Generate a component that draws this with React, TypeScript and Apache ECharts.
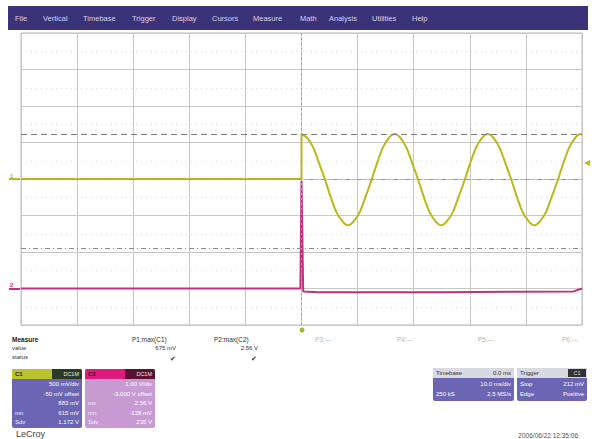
import React, { useEffect, useRef } from "react";
import * as echarts from "echarts";

// Time in divisions (10 div across), amplitude in divisions (8 div tall)
const yellowFlat: [number, number][] = [[-5, 0], [0, 0], [0, 1.23]];
const yellowSineT = [
  0, 0.10, 0.21, 0.31, 0.42, 0.52, 0.62, 0.73, 0.83, 0.93, 1.04, 1.14, 1.25, 1.35, 1.45, 1.56,
  1.66, 1.76, 1.87, 1.97, 2.08, 2.18, 2.28, 2.39, 2.49, 2.59, 2.70, 2.80, 2.91, 3.01, 3.11, 3.22,
  3.32, 3.42, 3.53, 3.63, 3.74, 3.84, 3.94, 4.05, 4.15, 4.25, 4.36, 4.46, 4.57, 4.67, 4.77, 4.88,
  4.98, 5.0,
];
const yellowSineV = [
  1.23, 1.13, 0.86, 0.45, -0.02, -0.49, -0.9, -1.16, -1.27, -1.16, -0.9, -0.49, -0.02, 0.45, 0.86, 1.13,
  1.23, 1.13, 0.86, 0.45, -0.02, -0.49, -0.9, -1.16, -1.27, -1.16, -0.9, -0.49, -0.02, 0.45, 0.86, 1.13,
  1.23, 1.13, 0.86, 0.45, -0.02, -0.49, -0.9, -1.16, -1.27, -1.16, -0.9, -0.49, -0.02, 0.45, 0.86, 1.13,
  1.23, 1.22,
];
const pinkT = [-5, -0.02, 0, 0.03, 0.3, 2.5, 4.85, 5.0];
const pinkV = [-3.0, -3.0, -0.05, -3.08, -3.1, -3.1, -3.08, -3.0];
const cursorLevels = [1.23, -1.89];

const menuItems = ["File", "Vertical", "Timebase", "Trigger", "Display", "Cursors", "Measure", "Math", "Analysis", "Utilities", "Help"];
const menuX = [15, 43, 83, 132, 172, 212, 253, 300, 329, 372, 412];
const paramLabels = ["P3:---", "P4:---", "P5:---", "P6:---"];
const paramX = [315, 397, 478, 562];
const measureNames = ["P1:max(C1)", "P2:max(C2)"];
const measureValues = ["675 mV", "2.56 V"];
const c1Rows: [string, string][] = [["", "500 mV/div"], ["", "-50 mV offset"], ["", "883 mV"], ["mn", "615 mV"], ["Sdv", "1.172 V"]];
const c2Rows: [string, string][] = [["", "1.00 V/div"], ["", "-3.000 V offset"], ["mx", "2.56 V"], ["mn", "-128 mV"], ["Sdv", "235 V"]];

function txt(x: number, y: number, text: string, fill: string, size: number, align = "left", weight = "normal") {
  return {
    type: "text",
    x,
    y,
    silent: true,
    style: { text, fill, font: `${weight} ${size}px Arial, "Liberation Sans", sans-serif`, align, verticalAlign: "middle" },
  };
}
function rect(x: number, y: number, w: number, h: number, fill: string, r: any = 0) {
  return { type: "rect", silent: true, shape: { x, y, width: w, height: h, r }, style: { fill } };
}

function channelBox(x: number, headL: string, headR: string, body: string, rows: [string, string][], label: string) {
  const w = 70;
  const els: any[] = [];
  els.push(rect(x, 369, w, 59, body, 2));
  els.push(rect(x, 369, 40, 10, headL, [2, 0, 0, 0]));
  els.push(rect(x + 40, 369, w - 40, 10, headR, [0, 2, 0, 0]));
  els.push(txt(x + 3, 374, label, "#1a1a1a", 6, "left", "bold"));
  els.push(txt(x + w - 3, 374, "DC1M", "#e8e8e8", 5.5, "right"));
  rows.forEach((r, i) => {
    const y = 384 + i * 9.6;
    if (r[0]) els.push(txt(x + 3, y, r[0], "#f0f0ff", 6));
    els.push(txt(x + w - 3, y, r[1], "#ffffff", 6, "right"));
  });
  return els;
}

export default function App() {
  const ref = useRef<HTMLDivElement>(null);
  useEffect(() => {
    if (!ref.current) return;
    const chart = echarts.init(ref.current, undefined, { renderer: "svg" });

    const graphics: any[] = [];
    // menu bar
    graphics.push(rect(8, 6, 580, 24, "#3b3379"));
    menuItems.forEach((m, i) => graphics.push(txt(menuX[i], 18, m, "#d6d2ee", 7.5)));
    // channel markers
    graphics.push(txt(10, 176, "1", "#b9b91a", 6, "left", "bold"));
    graphics.push(rect(9, 178, 11, 2, "#b9b91a"));
    graphics.push(txt(10, 285, "2", "#c0307e", 6, "left", "bold"));
    graphics.push(rect(9, 288, 11, 2, "#c0307e"));
    graphics.push({ type: "polygon", silent: true, shape: { points: [[584, 163], [590, 160], [590, 166]] }, style: { fill: "#b9b91a" } });
    graphics.push({ type: "circle", silent: true, shape: { cx: 302, cy: 330, r: 2.5 }, style: { fill: "#a8b820" } });
    // P3..P6
    paramLabels.forEach((p, i) => graphics.push(txt(paramX[i], 339, p, "#b8b8b8", 6.5)));
    // measure table
    graphics.push(txt(12, 339, "Measure", "#222", 6.5, "left", "bold"));
    graphics.push(txt(12, 348, "value", "#333", 6));
    graphics.push(txt(12, 357, "status", "#333", 6));
    graphics.push(txt(132, 339, measureNames[0], "#333", 6.5));
    graphics.push(txt(214, 339, measureNames[1], "#333", 6.5));
    graphics.push(txt(176, 348, measureValues[0], "#333", 6, "right"));
    graphics.push(txt(258, 348, measureValues[1], "#333", 6, "right"));
    graphics.push(txt(173, 358, "✔", "#333", 7, "center"));
    graphics.push(txt(254, 358, "✔", "#333", 7, "center"));
    // channel boxes
    graphics.push(...channelBox(12, "#b9c42a", "#2b3a22", "#6c65b4", c1Rows, "C1"));
    graphics.push(...channelBox(85, "#e01a7c", "#5a1232", "#c79bd2", c2Rows, "C2"));
    // timebase box
    graphics.push(rect(433, 368, 81, 33, "#6c65b4", 2));
    graphics.push(rect(433, 368, 81, 10, "#d9d9e2", [2, 2, 0, 0]));
    graphics.push(txt(436, 373, "Timebase", "#333", 6));
    graphics.push(txt(511, 373, "0.0 ms", "#333", 6, "right"));
    graphics.push(txt(511, 384, "10.0 ms/div", "#fff", 6, "right"));
    graphics.push(txt(436, 394, "250 kS", "#fff", 6));
    graphics.push(txt(511, 394, "2.5 MS/s", "#fff", 6, "right"));
    // trigger box
    graphics.push(rect(517, 368, 70, 33, "#6c65b4", 2));
    graphics.push(rect(517, 368, 70, 10, "#d9d9e2", [2, 2, 0, 0]));
    graphics.push(rect(568, 369, 18, 8, "#333333"));
    graphics.push(txt(520, 373, "Trigger", "#333", 6));
    graphics.push(txt(577, 373, "C1", "#ddd", 5.5, "center"));
    graphics.push(txt(520, 384, "Stop", "#fff", 6));
    graphics.push(txt(584, 384, "212 mV", "#fff", 6, "right"));
    graphics.push(txt(520, 394, "Edge", "#fff", 6));
    graphics.push(txt(584, 394, "Positive", "#fff", 6, "right"));
    // footer
    graphics.push(txt(16, 434, "LeCroy", "#444", 9));
    graphics.push(txt(578, 435, "2006/06/22 12:35:06", "#555", 6.5, "right"));

    chart.setOption({
      animation: false,
      backgroundColor: "#ffffff",
      grid: { left: 21, top: 33, width: 561, height: 292, show: true, borderColor: "#bdbdbd", borderWidth: 1 },
      xAxis: {
        type: "value",
        min: -5,
        max: 5,
        interval: 1,
        axisLabel: { show: false },
        axisLine: { show: false },
        axisTick: { show: false },
        splitLine: { show: true, lineStyle: { color: "#c8c8c8", width: 1 } },
      },
      yAxis: {
        type: "value",
        min: -4,
        max: 4,
        interval: 1,
        axisLabel: { show: false },
        axisLine: { show: false },
        axisTick: { show: false },
        splitLine: { show: true, lineStyle: { color: "#c8c8c8", width: 1 } },
        minorTick: { show: false, splitNumber: 2 },
        minorSplitLine: { show: true, lineStyle: { color: "#dcdcdc", type: [1, 4], width: 1 } },
      },
      series: [
        {
          type: "line",
          data: yellowFlat,
          showSymbol: false,
          lineStyle: { color: "#b9b91a", width: 2 },
          z: 3,
          markLine: {
            silent: true,
            symbol: "none",
            label: { show: false },
            data: [
              { yAxis: cursorLevels[0], lineStyle: { color: "#7a7a7a", type: [6, 4], width: 1.2 } },
              { yAxis: cursorLevels[1], lineStyle: { color: "#8a8a8a", type: [5, 3, 1, 3], width: 1 } },
              { yAxis: 0, lineStyle: { color: "#9a9a9a", type: [5, 3, 1, 3], width: 1 } },
              { xAxis: 0, lineStyle: { color: "#a0a0a0", type: [2, 3], width: 1 } },
            ],
          },
        },
        {
          type: "line",
          data: yellowSineT.map((t, i) => [t, yellowSineV[i]]),
          showSymbol: false,
          smooth: 0.3,
          lineStyle: { color: "#b9b91a", width: 2 },
          z: 3,
        },
        {
          type: "line",
          data: pinkT.map((t, i) => [t, pinkV[i]]),
          showSymbol: false,
          lineStyle: { color: "#c0307e", width: 2 },
          z: 2,
        },
      ],
      graphic: graphics,
    });
    return () => chart.dispose();
  }, []);
  return <div ref={ref} style={{ position: "fixed", left: 0, top: 0, width: 592, height: 439 }} />;
}
